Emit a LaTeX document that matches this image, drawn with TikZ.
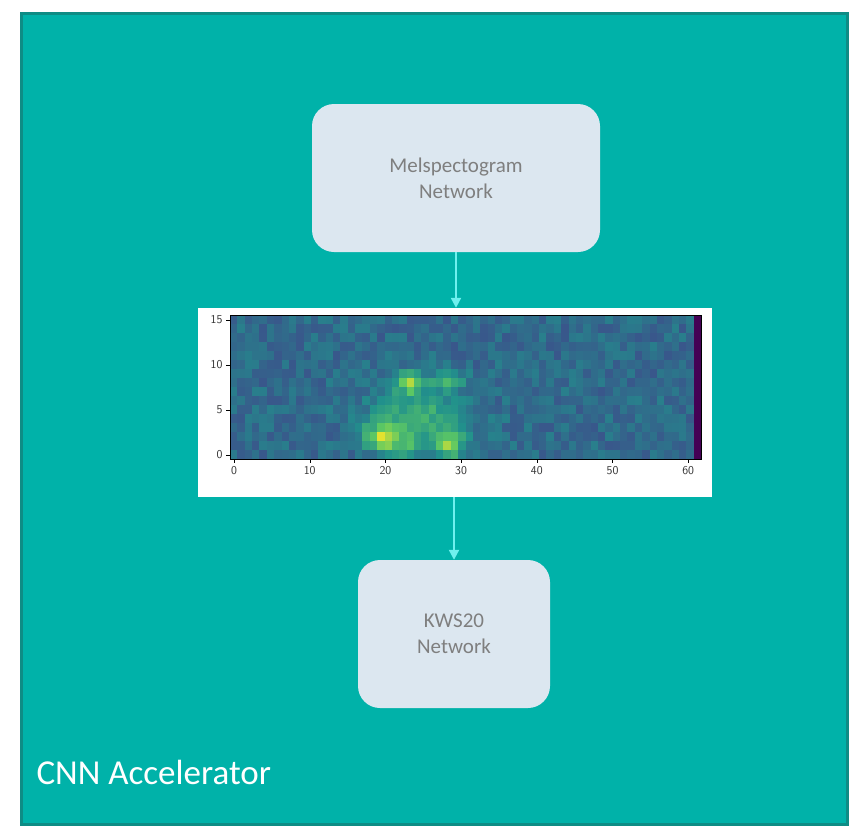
\documentclass[tikz,border=0pt]{standalone}
\usepackage{fontspec}
\setmainfont{Carlito}
\usetikzlibrary{arrows.meta}
\definecolor{tealbg}{HTML}{00B2A9}
\definecolor{tealbd}{HTML}{0E8C85}
\definecolor{boxfill}{HTML}{DCE7F0}
\definecolor{boxtxt}{HTML}{7F7F7F}
\definecolor{arr}{HTML}{6FF0EE}
\definecolor{vz0}{HTML}{440154}
\definecolor{vz1}{HTML}{3B528B}
\definecolor{vz2}{HTML}{21918C}
\definecolor{vz3}{HTML}{5EC962}
\definecolor{vz4}{HTML}{FDE725}
\begin{document}
\begin{tikzpicture}[x=1pt,y=-1pt,
  box/.style={draw=none,fill=boxfill,rounded corners=22pt,align=center,text=boxtxt,font=\fontsize{21}{26}\selectfont},
  link/.style={draw=arr,line width=2.2pt,-{Triangle[length=10pt,width=10pt]}},
  tick/.style={font=\sffamily\fontsize{12}{12}\selectfont,text=black!80}]
\useasboundingbox (0,0) rectangle (864,839);
\fill[white] (0,0) rectangle (864,839);
\draw[tealbd,line width=3pt,fill=tealbg] (21,13) rectangle (847,824);
\node[box,minimum width=288pt,minimum height=148pt] (mel) at (456,178) {Melspectogram\\Network};
\node[box,minimum width=192pt,minimum height=148pt] (kws) at (454,634) {KWS20\\Network};
\node[fill=white,minimum width=514pt,minimum height=189pt,inner sep=0pt] (spec) at (455,402.5) {};
% heatmap
\pgfmathsetseed{7}
\foreach \i in {0,...,62}{\foreach \j in {0,...,15}{
  \pgfmathsetmacro\v{min(0.99,0.27+0.16*rnd
   +0.30*exp(-min(12,(\i-25)^2/40+(\j-4)^2/12))
   +0.40*exp(-min(12,(\i-20)^2/5+(\j-2)^2/2))
   +0.40*exp(-min(12,(\i-29.5)^2/3+(\j-1)^2/1.5))
   +0.20*exp(-min(12,(\i-23)^2/6+(\j-1)^2/2))
   +0.38*exp(-min(12,(\i-24)^2/3+(\j-8)^2/1.5))
   +0.25*exp(-min(12,(\i-29)^2/6+(\j-8.3)^2/1)))}
  \pgfmathtruncatemacro\seg{min(3,floor(\v*4))}
  \pgfmathtruncatemacro\t{(\v*4-\seg)*100}
  \ifcase\seg \colorlet{cc}{vz1!\t!vz0}\or\colorlet{cc}{vz2!\t!vz1}\or\colorlet{cc}{vz3!\t!vz2}\else\colorlet{cc}{vz4!\t!vz3}\fi
  \fill[cc] ({230+\i*7.36},{459-(\j+1)*9}) rectangle ({230+(\i+1)*7.36+0.3},{459-\j*9+0.3});
}}
\fill[vz0] ({230+63*7.36},315) rectangle (701,459);
\draw[black,line width=0.6pt] (230,315) rectangle (701,459);
\foreach \k/\l in {0/0,10/10,20/20,30/30,40/40,50/50,60/60}{
  \draw (234+\k*7.57,459) -- ++(0,4);
  \node[tick,anchor=north] (tx\k) at (234+\k*7.57,463) {\l};}
\foreach \k in {0,5,10,15}{
  \draw (230,455-\k*9) -- ++(-4,0);
  \node[tick,anchor=east] (ty\k) at (226,455-\k*9) {\k};}
\draw[link] (mel.south) -- (spec.north -| mel.south);
\draw[link] (spec.south -| kws.north) -- (kws.north);
\node[anchor=west,text=white,font=\fontsize{35}{40}\selectfont] (lbl) at (33,772) {CNN Accelerator};
\end{tikzpicture}
\end{document}
